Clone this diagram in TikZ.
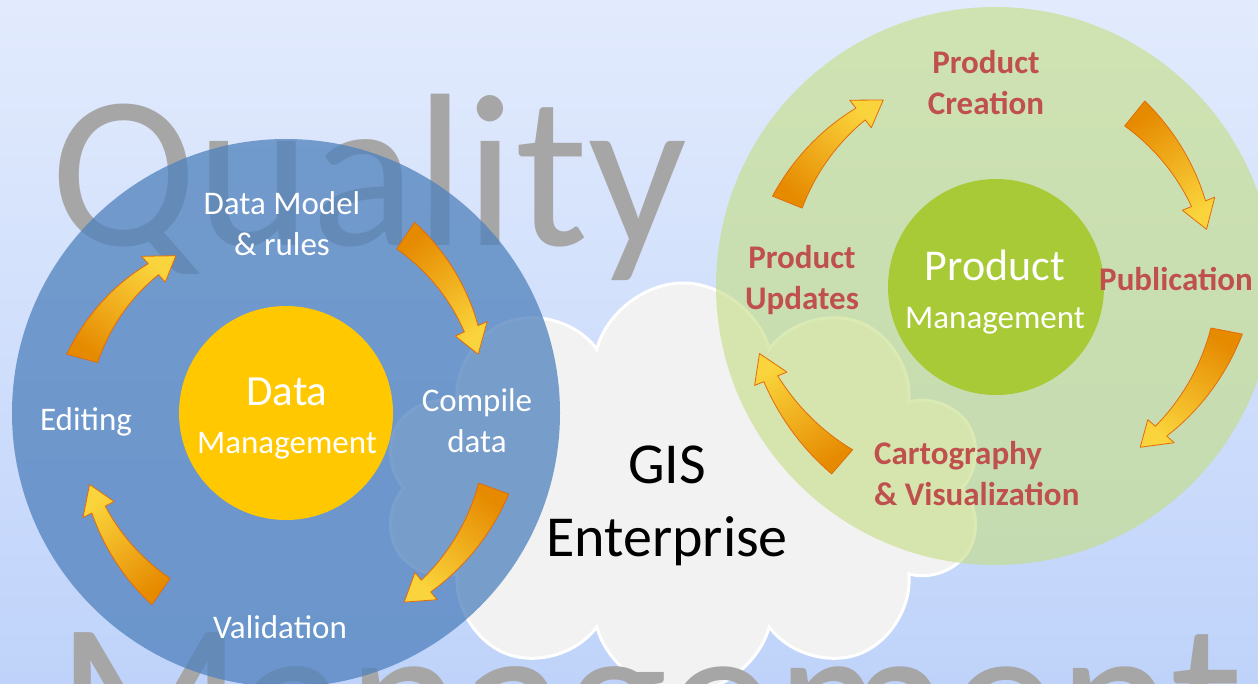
\documentclass[tikz,border=0pt]{standalone}
\usepackage{fontspec}
\setmainfont{Carlito}
\usepackage{xcolor}
\usepackage{tikz}
\usetikzlibrary{shapes.symbols,calc}
\definecolor{skytop}{HTML}{E2EBFD}
\definecolor{skybot}{HTML}{BFD3FA}
\definecolor{ghost}{HTML}{A6A6A6}
\definecolor{cloudfill}{HTML}{F2F2F2}
\definecolor{datablue}{HTML}{4F81BD}
\definecolor{datagold}{HTML}{FFC800}
\definecolor{prodwash}{HTML}{C4DE84}
\definecolor{prodlime}{HTML}{A8CA36}
\definecolor{labelred}{HTML}{C0504D}
\definecolor{tailorange}{HTML}{E68A00}
\definecolor{tipyellow}{HTML}{FAD43C}
\definecolor{rimorange}{HTML}{E36C09}

% curved cycle arrow round the scope origin: #1 -> #2 (angles), #3 tail radius, #4 tip radius
\newcommand{\cyclearrow}[4]{%
  \pgfmathsetmacro{\hs}{1-27/((#3+#4)/2*pi/180*(#2-#1))}%
  \pgfmathsetmacro{\ang}{-(#1+#2)/2-180}%
  \path[arrowbody, shading angle=\ang]
    plot[domain=0:\hs, samples=18, variable=\s] ({#1+(#2-#1)*\s}:{#3+(#4-#3)*\s+16-8.5*\s/\hs})
    -- ({#1+(#2-#1)*\hs}:{#3+(#4-#3)*\hs+17.5})
    -- (#2:#4)
    -- ({#1+(#2-#1)*\hs}:{#3+(#4-#3)*\hs-17.5})
    -- plot[domain=0:\hs, samples=18, variable=\s] ({#1+(#2-#1)*(\hs-\s)}:{#3+(#4-#3)*(\hs-\s)-16+8.5*(\hs-\s)/\hs})
    -- cycle;
}

\tikzset{
  arrowbody/.style={shade, top color=tipyellow, bottom color=tailorange,
    draw=rimorange, line width=0.8pt, line join=round},
  ghosttext/.style={font=\fontsize{218}{220}\selectfont, text=ghost, inner sep=0pt, anchor=base west},
  ringlabel/.style={font=\fontsize{33}{41}\selectfont, text=white, align=center, inner sep=0pt},
  prodlabel/.style={font=\bfseries\fontsize{33}{41}\selectfont, text=labelred, align=center, inner sep=0pt},
  hublabel/.style={font=\fontsize{33}{48}\selectfont, text=white, align=center, inner sep=0pt},
  disc/.style={circle, inner sep=0pt}
}

\begin{document}
\begin{tikzpicture}[x=1pt, y=-1pt]
  \useasboundingbox (0,0) rectangle (1258,683);
  \clip (0,0) rectangle (1258,683);
  \shade[top color=skytop, bottom color=skybot] (0,0) rectangle (1258,683);

  \coordinate (dm) at (286,413);
  \coordinate (pm) at (996,287);

  % the enterprise cloud and the two big words behind everything
  \node[cloud, cloud puffs=10, fill=cloudfill, draw=white, line width=3pt,
        minimum width=600pt, minimum height=410pt] (cloud) at (683,488) {};
  \node[ghosttext] (quality) at (50,245) {Quality};
  \node[ghosttext] (management) at (56,772) {Management};

  % data side
  \node[disc, fill=datablue, fill opacity=0.75, minimum size=548pt] (dataring) at (dm) {};
  \node[disc, fill=datagold, minimum size=214pt] (datahub) at (dm) {};
  \begin{scope}[shift={(dm)}]
    \cyclearrow{195}{235}{211}{192}
    \cyclearrow{304}{343}{214}{201}
    \cyclearrow{20}{58}{221}{223}
    \cyclearrow{125}{160}{218}{209}
  \end{scope}
  \node[hublabel] (datatext) at ($(dm)+(1,6)$) {{\fontsize{43}{48}\selectfont Data}\\Management};
  \node[ringlabel] (model) at ($(dm)+(-4,-189)$) {Data Model\\\& rules};
  \node[ringlabel] (compile) at ($(dm)+(191,8)$) {Compile\\data};
  \node[ringlabel] (validation) at ($(dm)+(-6,214)$) {Validation};
  \node[ringlabel] (editing) at ($(dm)+(-200,9)$) {Editing};

  % product side
  \node[disc, fill=prodwash, fill opacity=0.62, minimum size=558pt] (prodring) at (995,286) {};
  \node[disc, fill=prodlime, minimum size=216pt] (prodhub) at (pm) {};
  \begin{scope}[shift={(995,286)}]
    \cyclearrow{202}{239}{224}{217}
    \cyclearrow{309}{345}{222}{219}
    \cyclearrow{11}{48}{236}{217}
    \cyclearrow{131}{164}{233}{245}
  \end{scope}
  \node[hublabel] (prodtext) at ($(pm)+(-1,5)$) {{\fontsize{44}{50}\selectfont Product}\\Management};
  \node[prodlabel] (creation) at ($(pm)+(-10,-204)$) {Product\\Creation};
  \node[prodlabel, anchor=west] (publication) at ($(pm)+(103,-8)$) {Publication};
  \node[prodlabel, align=left, anchor=west] (carto) at ($(pm)+(-122,187)$) {Cartography\\\& Visualization};
  \node[prodlabel] (updates) at ($(pm)+(-194,-7)$) {Product\\Updates};

  \node[font=\fontsize{58}{73}\selectfont, align=center, inner sep=0pt] (gis) at (667,506) {GIS\\Enterprise};
\end{tikzpicture}
\end{document}
